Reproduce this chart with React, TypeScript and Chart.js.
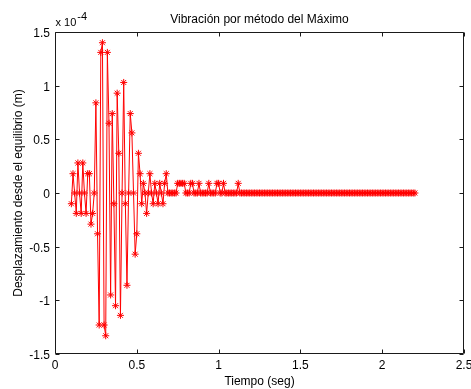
import React, { useEffect, useRef } from "react";
import { Chart, registerables } from "chart.js";

Chart.register(...registerables);

// Sample times (s)
const TIME = [
  0.10, 0.11, 0.12, 0.13, 0.14, 0.15, 0.16, 0.17, 0.18, 0.19,
  0.20, 0.21, 0.22, 0.23, 0.24, 0.25, 0.26, 0.27, 0.28, 0.29,
  0.30, 0.31, 0.32, 0.33, 0.34, 0.35, 0.36, 0.37, 0.38, 0.39,
  0.40, 0.41, 0.42, 0.43, 0.44, 0.45, 0.46, 0.47, 0.48, 0.49,
  0.50, 0.51, 0.52, 0.53, 0.54, 0.55, 0.56, 0.57, 0.58, 0.59,
  0.60, 0.61, 0.62, 0.63, 0.64, 0.65, 0.66, 0.67, 0.68, 0.69,
  0.70, 0.71, 0.72, 0.73, 0.74, 0.75, 0.76, 0.77, 0.78, 0.79,
  0.80, 0.81, 0.82, 0.83, 0.84, 0.85, 0.86, 0.87, 0.88, 0.89,
  0.90, 0.91, 0.92, 0.93, 0.94, 0.95, 0.96, 0.97, 0.98, 0.99,
  1.00, 1.01, 1.02, 1.03, 1.04, 1.05, 1.06, 1.07, 1.08, 1.09,
  1.10, 1.11, 1.12, 1.13, 1.14, 1.15, 1.16, 1.17, 1.18, 1.19,
  1.20, 1.21, 1.22, 1.23, 1.24, 1.25, 1.26, 1.27, 1.28, 1.29,
  1.30, 1.31, 1.32, 1.33, 1.34, 1.35, 1.36, 1.37, 1.38, 1.39,
  1.40, 1.41, 1.42, 1.43, 1.44, 1.45, 1.46, 1.47, 1.48, 1.49,
  1.50, 1.51, 1.52, 1.53, 1.54, 1.55, 1.56, 1.57, 1.58, 1.59,
  1.60, 1.61, 1.62, 1.63, 1.64, 1.65, 1.66, 1.67, 1.68, 1.69,
  1.70, 1.71, 1.72, 1.73, 1.74, 1.75, 1.76, 1.77, 1.78, 1.79,
  1.80, 1.81, 1.82, 1.83, 1.84, 1.85, 1.86, 1.87, 1.88, 1.89,
  1.90, 1.91, 1.92, 1.93, 1.94, 1.95, 1.96, 1.97, 1.98, 1.99,
  2.00, 2.01, 2.02, 2.03, 2.04, 2.05, 2.06, 2.07, 2.08, 2.09,
  2.10, 2.11, 2.12, 2.13, 2.14, 2.15, 2.16, 2.17, 2.18, 2.19,
  2.20,
];

// Displacement (x 10^-4 m)
const DISP = [
  -0.10, 0.18, 0, -0.19, 0.28, 0, -0.19, 0.28, 0, -0.19,
  0.18, 0.18, -0.29, -0.19, 0, 0.84, -0.38, -1.23, 1.31, 1.40,
  -1.23, -1.33, 1.31, 0.65, -0.95, 0.74, -0.10, -1.05, 0.93, 0.37,
  -1.14, 0, 1.03, -0.10, -0.86, 0, 0.74, 0.56, 0, -0.57,
  -0.38, 0.37, 0.18, -0.10, 0.09, 0, -0.19, 0, 0.18, 0,
  -0.10, 0.09, 0, -0.10, 0.09, 0, -0.10, 0.09, 0.18, 0,
  0, 0, 0, 0, 0, 0.09, 0.09, 0.09, 0.09, 0.09,
  0, 0, 0, 0.09, 0.09, 0, 0, 0, 0.09, 0,
  0, 0, 0, 0, 0.09, 0, 0, 0, 0, 0.09,
  0.09, 0, 0, 0.09, 0, 0, 0, 0, 0, 0,
  0, 0, 0.09, 0, 0, 0, 0, 0, 0, 0,
  0, 0, 0, 0, 0, 0, 0, 0, 0, 0,
  0, 0, 0, 0, 0, 0, 0, 0, 0, 0,
  0, 0, 0, 0, 0, 0, 0, 0, 0, 0,
  0, 0, 0, 0, 0, 0, 0, 0, 0, 0,
  0, 0, 0, 0, 0, 0, 0, 0, 0, 0,
  0, 0, 0, 0, 0, 0, 0, 0, 0, 0,
  0, 0, 0, 0, 0, 0, 0, 0, 0, 0,
  0, 0, 0, 0, 0, 0, 0, 0, 0, 0,
  0, 0, 0, 0, 0, 0, 0, 0, 0, 0,
  0, 0, 0, 0, 0, 0, 0, 0, 0, 0,
  0,
];

const X_TICKS = [0, 0.5, 1, 1.5, 2, 2.5];
const X_TICK_LABELS = ["0", "0.5", "1", "1.5", "2", "2.5"];
const Y_TICKS = [-1.5, -1, -0.5, 0, 0.5, 1, 1.5];
const Y_TICK_LABELS = ["-1.5", "-1", "-0.5", "0", "0.5", "1", "1.5"];

const TITLE = "Vibración por método del Máximo";
const X_LABEL = "Tiempo (seg)";
const Y_LABEL = "Desplazamiento desde el equilibrio (m)";
const EXP_BASE = "x 10";
const EXP_POWER = "-4";

const FONT = '"Liberation Sans", Arial, Helvetica, sans-serif';

const matlabAxes = {
  id: "matlabAxes",
  afterDraw(chart: any) {
    const { ctx, chartArea: a, scales } = chart;
    const xs = scales.x;
    const ys = scales.y;
    const L = Math.round(a.left) + 0.5;
    const R = Math.round(a.right) - 0.5;
    const T = Math.round(a.top) + 0.5;
    const B = Math.round(a.bottom) - 0.5;
    const TL = 4;
    ctx.save();
    ctx.strokeStyle = "#1a1a1a";
    ctx.lineWidth = 1;
    ctx.beginPath();
    ctx.rect(L, T, R - L, B - T);
    X_TICKS.forEach((v) => {
      const px = Math.round(xs.getPixelForValue(v)) + 0.5;
      ctx.moveTo(px, B);
      ctx.lineTo(px, B - TL);
      ctx.moveTo(px, T);
      ctx.lineTo(px, T + TL);
    });
    Y_TICKS.forEach((v) => {
      const py = Math.round(ys.getPixelForValue(v)) + 0.5;
      ctx.moveTo(L, py);
      ctx.lineTo(L + TL, py);
      ctx.moveTo(R, py);
      ctx.lineTo(R - TL, py);
    });
    ctx.stroke();

    ctx.fillStyle = "#000";
    ctx.font = `12px ${FONT}`;
    ctx.textAlign = "center";
    ctx.textBaseline = "alphabetic";
    X_TICKS.forEach((v, i) => {
      ctx.fillText(X_TICK_LABELS[i], xs.getPixelForValue(v), a.bottom + 15);
    });
    ctx.textAlign = "right";
    Y_TICKS.forEach((v, i) => {
      ctx.fillText(Y_TICK_LABELS[i], a.left - 5, ys.getPixelForValue(v) + 5);
    });
    ctx.textAlign = "center";
    ctx.fillText(TITLE, (a.left + a.right) / 2, 22.5);
    ctx.fillText(X_LABEL, (a.left + a.right) / 2, 385);
    ctx.save();
    ctx.translate(22, (a.top + a.bottom) / 2);
    ctx.rotate(-Math.PI / 2);
    ctx.fillText(Y_LABEL, 0, 0);
    ctx.restore();
    ctx.textAlign = "left";
    ctx.font = `11px ${FONT}`;
    ctx.fillText(EXP_BASE, a.left + 0.5, 26);
    const w = ctx.measureText(EXP_BASE).width;
    ctx.fillText(EXP_POWER, a.left + 0.5 + w + 1, 20);
    ctx.restore();
  },
};

export default function App() {
  const ref = useRef<HTMLCanvasElement | null>(null);
  useEffect(() => {
    if (!ref.current) return;
    const chart = new Chart(ref.current, {
      type: "line",
      data: {
        datasets: [
          {
            data: TIME.map((t, i) => ({ x: t, y: DISP[i] })),
            borderColor: "#ff0000",
            borderWidth: 1,
            pointStyle: "star",
            pointRadius: 3.5,
            pointBorderColor: "#ff0000",
            pointBorderWidth: 1,
            pointBackgroundColor: "rgba(0,0,0,0)",
            fill: false,
            tension: 0,
          },
        ],
      },
      options: {
        animation: false,
        responsive: false,
        devicePixelRatio: 1,
        layout: { padding: { top: 32, right: 7, left: 0, bottom: 0 } },
        plugins: {
          legend: { display: false },
          title: { display: false },
          tooltip: { enabled: false },
        },
        events: [],
        scales: {
          x: {
            type: "linear",
            min: 0,
            max: 2.5,
            ticks: { display: false },
            grid: { display: false },
            border: { display: false },
            afterFit: (s: any) => {
              s.height = 35;
            },
          },
          y: {
            type: "linear",
            min: -1.5,
            max: 1.5,
            ticks: { display: false },
            grid: { display: false },
            border: { display: false },
            afterFit: (s: any) => {
              s.width = 55;
            },
          },
        },
      },
      plugins: [matlabAxes],
    });
    return () => chart.destroy();
  }, []);
  return (
    <div style={{ position: "fixed", left: 0, top: 0, width: 471, height: 389, background: "#fff" }}>
      <canvas ref={ref} width={471} height={389} style={{ display: "block" }} />
    </div>
  );
}
